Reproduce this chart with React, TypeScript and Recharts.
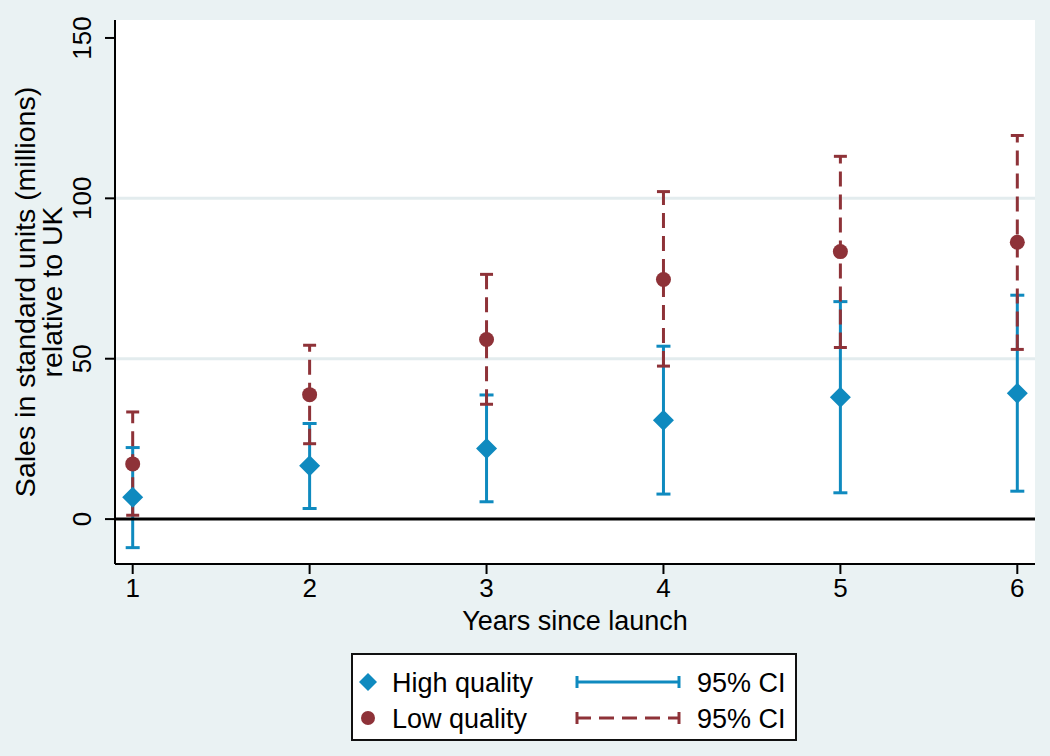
import { ScatterChart, Scatter, XAxis, YAxis, ErrorBar, ReferenceLine, Legend, CartesianGrid } from 'recharts'

const years = [1, 2, 3, 4, 5, 6]
const highEst = [6.8, 16.6, 22.0, 30.8, 38.0, 39.2]
const highLow = [-8.9, 3.3, 5.4, 7.8, 8.2, 8.7]
const highHigh = [22.3, 29.8, 38.7, 53.9, 67.8, 69.8]
const lowEst = [17.2, 38.8, 56.0, 74.7, 83.4, 86.3]
const lowLow = [1.2, 23.5, 35.8, 47.7, 53.5, 52.9]
const lowHigh = [33.4, 54.2, 76.3, 102.1, 113.1, 119.6]
const yTicks = [0, 50, 100, 150]
const gridValues = [50, 100]

const FONT = '"Liberation Sans", Arial, sans-serif'
const BLUE = '#0f8abf'
const MAROON = '#8e3238'
const BG = '#eaf2f3'

const highData = years.map((x, i) => ({
  x,
  y: highEst[i],
  err: [highEst[i] - highLow[i], highHigh[i] - highEst[i]],
}))
const lowData = years.map((x, i) => ({
  x,
  y: lowEst[i],
  err: [lowEst[i] - lowLow[i], lowHigh[i] - lowEst[i]],
}))

const Diamond = ({ cx, cy }: any) => (
  <polygon
    points={`${cx},${cy - 10.5} ${cx + 10.5},${cy} ${cx},${cy + 10.5} ${cx - 10.5},${cy}`}
    fill={BLUE}
  />
)
const Dot = ({ cx, cy }: any) => <circle cx={cx} cy={cy} r={7.5} fill={MAROON} />
const NoShape = () => <g />

const YTick = ({ x, y, payload }: any) => {
  const bx = x - 12
  return (
    <text
      x={bx}
      y={y}
      transform={`rotate(-90, ${bx}, ${y})`}
      textAnchor='middle'
      fontSize={26}
      fontFamily={FONT}
      fill='#000'
    >
      {payload.value}
    </text>
  )
}

const YTitle = ({ viewBox }: any) => {
  const cy = viewBox.y + viewBox.height / 2
  return (
    <g fontFamily={FONT} fontSize={28.5} fill='#000'>
      <text x={35} y={cy} transform={`rotate(-90, 35, ${cy})`} textAnchor='middle'>
        Sales in standard units (millions)
      </text>
      <text x={62} y={cy} transform={`rotate(-90, 62, ${cy})`} textAnchor='middle'>
        relative to UK
      </text>
    </g>
  )
}

const XTitle = ({ viewBox }: any) => (
  <text
    x={viewBox.x + viewBox.width / 2}
    y={630}
    textAnchor='middle'
    fontFamily={FONT}
    fontSize={27}
    fill='#000'
  >
    Years since launch
  </text>
)

const renderLegend = () => (
  <div
    style={{
      width: 446,
      height: 88,
      boxSizing: 'border-box',
      border: '2px solid #111',
      background: '#fff',
    }}
  >
    <svg width={442} height={84} style={{ display: 'block' }}>
      <g fontFamily={FONT} fontSize={27} fill='#000'>
        <polygon points='15,18 24,27 15,36 6,27' fill={BLUE} />
        <text x={39} y={37}>High quality</text>
        <line x1={223} y1={27} x2={327} y2={27} stroke={BLUE} strokeWidth={3} />
        <line x1={224} y1={21} x2={224} y2={33} stroke={BLUE} strokeWidth={3} />
        <line x1={326} y1={21} x2={326} y2={33} stroke={BLUE} strokeWidth={3} />
        <text x={344} y={37}>95% CI</text>

        <circle cx={15} cy={63} r={7} fill={MAROON} />
        <text x={39} y={73}>Low quality</text>
        <line x1={223} y1={63} x2={327} y2={63} stroke={MAROON} strokeWidth={3} strokeDasharray='15 8' />
        <line x1={224} y1={57} x2={224} y2={69} stroke={MAROON} strokeWidth={3} />
        <line x1={326} y1={57} x2={326} y2={69} stroke={MAROON} strokeWidth={3} />
        <text x={344} y={73}>95% CI</text>
      </g>
    </svg>
  </div>
)

export default function App() {
  return (
    <div style={{ position: 'absolute', left: 0, top: 0, width: 1050, height: 756, background: BG }}>
      <ScatterChart width={1050} height={756} margin={{ top: 20, right: 15, left: 0, bottom: 132 }}>
        <CartesianGrid fill='#fff' fillOpacity={1} horizontal={false} vertical={false} stroke='none' />
        {gridValues.map((v) => (
          <ReferenceLine key={v} y={v} stroke='#e3ecee' strokeWidth={3} />
        ))}
        <XAxis
          type='number'
          dataKey='x'
          domain={[0.9, 6.1]}
          ticks={years}
          allowDataOverflow
          height={60}
          tickSize={10}
          tickMargin={5}
          stroke='#000'
          strokeWidth={2}
          tick={{ fontSize: 26, fill: '#000', fontFamily: FONT }}
          label={{ content: XTitle }}
        />
        <YAxis
          type='number'
          dataKey='y'
          domain={[-14, 155.6]}
          ticks={yTicks}
          allowDataOverflow
          width={115}
          tickSize={10}
          stroke='#000'
          strokeWidth={2}
          tick={YTick}
          label={{ content: YTitle }}
        />
        <Scatter data={highData} shape={NoShape} isAnimationActive={false}>
          <ErrorBar dataKey='err' direction='y' width={7} stroke={BLUE} strokeWidth={3} isAnimationActive={false} />
        </Scatter>
        <Scatter data={lowData} shape={NoShape} isAnimationActive={false}>
          <ErrorBar
            dataKey='err'
            direction='y'
            width={6.5}
            stroke={MAROON}
            strokeWidth={3}
            strokeDasharray='15 8'
            isAnimationActive={false}
          />
        </Scatter>
        <ReferenceLine y={0} stroke='#000' strokeWidth={3} />
        <Scatter data={highData} shape={Diamond} isAnimationActive={false} />
        <Scatter data={lowData} shape={Dot} isAnimationActive={false} />
        <Legend
          layout='horizontal'
          verticalAlign='middle'
          align='center'
          content={renderLegend}
          wrapperStyle={{ left: 351, top: 653, width: 446, height: 88 }}
        />
      </ScatterChart>
    </div>
  )
}
